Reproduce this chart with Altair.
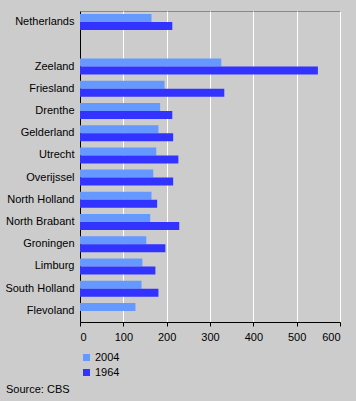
import altair as alt
import pandas as pd

categories = ["Netherlands", "_gap", "Zeeland", "Friesland", "Drenthe", "Gelderland",
              "Utrecht", "Overijssel", "North Holland", "North Brabant", "Groningen",
              "Limburg", "South Holland", "Flevoland"]
regions = ["Netherlands", "Zeeland", "Friesland", "Drenthe", "Gelderland",
           "Utrecht", "Overijssel", "North Holland", "North Brabant", "Groningen",
           "Limburg", "South Holland", "Flevoland"]
v2004 = [165, 326, 195, 185, 181, 176, 169, 165, 162, 153, 144, 142, 128]
v1964 = [213, 549, 333, 213, 215, 227, 215, 178, 229, 197, 174, 181, None]
series = ["2004", "1964"]
colors = ["#6699ff", "#3333ff"]

rows = []
for r, a, b in zip(regions, v2004, v1964):
    rows.append({"region": r, "year": "2004", "value": a})
    if b is not None:
        rows.append({"region": r, "year": "1964", "value": b})
df = pd.DataFrame(rows)

FONT = "Liberation Sans"

bars = alt.Chart(df).mark_bar(size=8).encode(
    y=alt.Y("region:N", scale=alt.Scale(domain=categories, paddingInner=0.28, paddingOuter=0.14),
            axis=alt.Axis(title=None, ticks=False, domainColor="black", labelPadding=6,
                          labelFontSize=11, labelFont=FONT, labelColor="black",
                          labelExpr="datum.value == '_gap' ? '' : datum.value")),
    x=alt.X("value:Q", scale=alt.Scale(domain=[0, 600], nice=False),
            axis=alt.Axis(title=None, values=[0, 100, 200, 300, 400, 500, 600], grid=True,
                          gridColor="white", gridWidth=1, domainColor="black",
                          tickColor="black", tickSize=4, labelFontSize=11, labelFont=FONT,
                          labelColor="black", labelPadding=5)),
    yOffset=alt.YOffset("year:N", scale=alt.Scale(domain=series, paddingInner=0, paddingOuter=0)),
    color=alt.Color("year:N", scale=alt.Scale(domain=series, range=colors),
                    legend=alt.Legend(title=None, orient="none", legendX=1, legendY=341,
                                      symbolType="square", symbolSize=49, symbolStrokeWidth=0,
                                      labelFontSize=11, labelFont=FONT, labelColor="black",
                                      rowPadding=3, labelOffset=3, padding=0)),
)

source = alt.Chart(pd.DataFrame({"t": ["Source: CBS"]})).mark_text(
    align="left", baseline="middle", font=FONT, fontSize=11, color="black"
).encode(text="t:N", x=alt.value(-74), y=alt.value(379))

chart = alt.layer(bars, source).properties(
    width=260, height=311,
    padding={"left": 80, "top": 11, "right": 16, "bottom": 79},
    autosize=alt.AutoSizeParams(type="none"),
    background="#cccccc",
).configure_view(stroke="#888888", fill="#cccccc")

chart.save("out.html", embed_options={"renderer": "svg", "actions": False})
